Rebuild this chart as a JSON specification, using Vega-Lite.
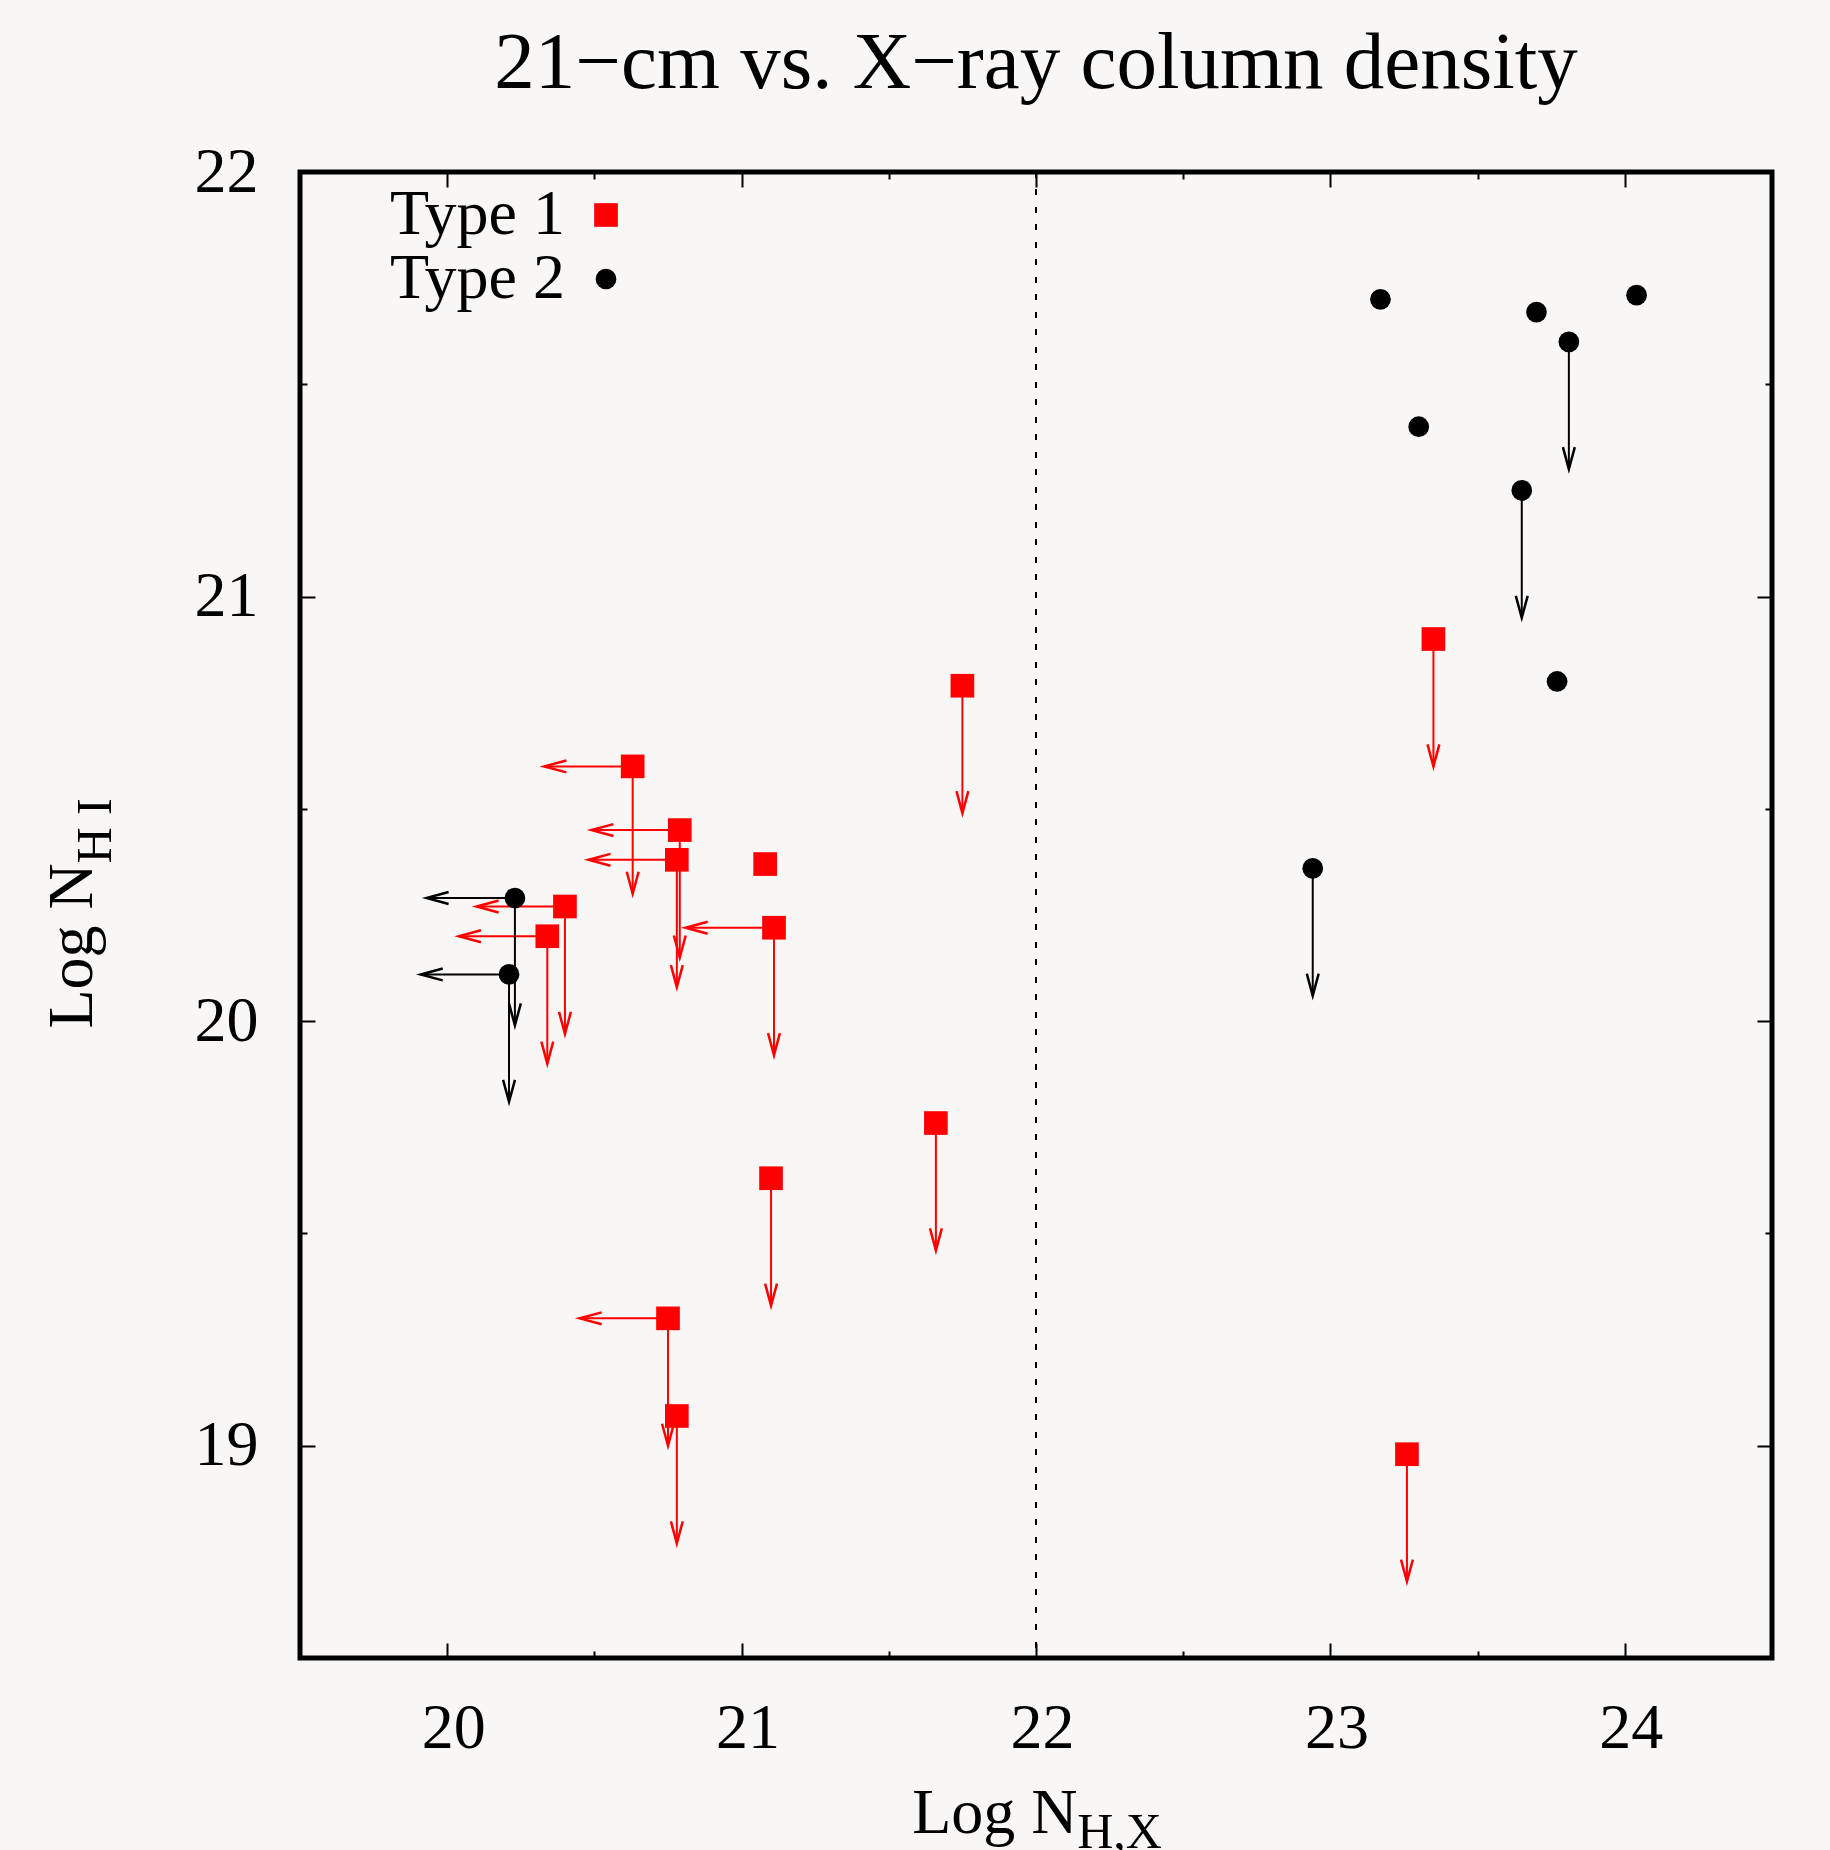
{
  "$schema": "https://vega.github.io/schema/vega-lite/v6.json",
  "width": 1472,
  "height": 1486,
  "autosize": {"type": "none"},
  "padding": {"left": 300, "top": 172, "right": 58, "bottom": 192},
  "background": "#f8f7f6",
  "title": {
    "text": "21\u2212cm vs. X\u2212ray column density",
    "font": "Liberation Serif",
    "fontSize": 81,
    "fontWeight": "normal",
    "color": "black",
    "anchor": "middle",
    "offset": 35
  },
  "config": {
    "view": {"stroke": "black", "strokeWidth": 5},
    "font": "Liberation Serif"
  },
  "data": {
    "values": [
      {"t": "Type 1", "x": 20.63, "y": 20.60, "xl": 20.33, "yl": 20.30},
      {"t": "Type 1", "x": 20.79, "y": 20.45, "xl": 20.49, "yl": 20.15},
      {"t": "Type 1", "x": 20.78, "y": 20.38, "xl": 20.48, "yl": 20.08},
      {"t": "Type 1", "x": 21.08, "y": 20.37},
      {"t": "Type 1", "x": 20.40, "y": 20.27, "xl": 20.10, "yl": 19.97},
      {"t": "Type 1", "x": 20.34, "y": 20.20, "xl": 20.04, "yl": 19.90},
      {"t": "Type 1", "x": 21.11, "y": 20.22, "xl": 20.81, "yl": 19.92},
      {"t": "Type 1", "x": 20.75, "y": 19.30, "xl": 20.45, "yl": 19.00},
      {"t": "Type 1", "x": 20.78, "y": 19.07, "yl": 18.77},
      {"t": "Type 1", "x": 21.75, "y": 20.79, "yl": 20.49},
      {"t": "Type 1", "x": 21.66, "y": 19.76, "yl": 19.46},
      {"t": "Type 1", "x": 21.10, "y": 19.63, "yl": 19.33},
      {"t": "Type 1", "x": 23.35, "y": 20.90, "yl": 20.60},
      {"t": "Type 1", "x": 23.26, "y": 18.98, "yl": 18.68},
      {"t": "Type 2", "x": 20.23, "y": 20.29, "xl": 19.93, "yl": 19.99},
      {"t": "Type 2", "x": 20.21, "y": 20.11, "xl": 19.91, "yl": 19.81},
      {"t": "Type 2", "x": 23.17, "y": 21.70},
      {"t": "Type 2", "x": 23.70, "y": 21.67},
      {"t": "Type 2", "x": 24.04, "y": 21.71},
      {"t": "Type 2", "x": 23.81, "y": 21.60, "yl": 21.30},
      {"t": "Type 2", "x": 23.30, "y": 21.40},
      {"t": "Type 2", "x": 23.65, "y": 21.25, "yl": 20.95},
      {"t": "Type 2", "x": 23.77, "y": 20.80},
      {"t": "Type 2", "x": 22.94, "y": 20.36, "yl": 20.06}
    ]
  },
  "resolve": {"axis": {"x": "independent", "y": "independent"}},
  "layer": [
    {
      "mark": {"type": "rule", "color": "black", "strokeWidth": 2, "strokeDash": [5.5, 12]},
      "encoding": {
        "x": {"datum": 22, "type": "quantitative", "scale": {"domain": [19.5, 24.5], "nice": false, "zero": false}, "axis": null}
      }
    },
    {
      "transform": [{"filter": "datum.t === 'Type 1' && isValid(datum.xl)"}],
      "mark": {"type": "rule", "strokeWidth": 2, "color": "#ff0000"},
      "encoding": {
        "x": {"field": "x", "type": "quantitative", "axis": {
          "orient": "bottom",
          "labels": false, "ticks": false, "domain": false, "grid": false,
          "title": "H,X", "titleFont": "Liberation Serif", "titleFontSize": 50, "titleFontWeight": "normal", "titleColor": "black",
          "titleX": 776.7, "titleY": 189, "titleAlign": "left", "titleBaseline": "alphabetic", "titleAngle": 0
        }},
        "x2": {"field": "xl"},
        "y": {"field": "y", "type": "quantitative", "axis": {
          "orient": "left",
          "labels": false, "ticks": false, "domain": false, "grid": false,
          "title": "H I", "titleFont": "Liberation Serif", "titleFontSize": 50, "titleFontWeight": "normal", "titleColor": "black",
          "titleX": -190, "titleY": 691, "titleAlign": "left", "titleBaseline": "alphabetic", "titleAngle": -90
        }}
      }
    },
    {
      "transform": [{"filter": "datum.t === 'Type 2' && isValid(datum.xl)"}],
      "mark": {"type": "rule", "strokeWidth": 2, "color": "#000000"},
      "encoding": {
        "x": {"field": "x", "type": "quantitative", "axis": null},
        "x2": {"field": "xl"},
        "y": {"field": "y", "type": "quantitative", "axis": null}
      }
    },
    {
      "transform": [{"filter": "datum.t === 'Type 1' && isValid(datum.yl)"}],
      "mark": {"type": "rule", "strokeWidth": 2, "color": "#ff0000"},
      "encoding": {
        "x": {"field": "x", "type": "quantitative", "axis": null},
        "y": {"field": "y", "type": "quantitative", "axis": null},
        "y2": {"field": "yl"}
      }
    },
    {
      "transform": [{"filter": "datum.t === 'Type 2' && isValid(datum.yl)"}],
      "mark": {"type": "rule", "strokeWidth": 2, "color": "#000000"},
      "encoding": {
        "x": {"field": "x", "type": "quantitative", "axis": null},
        "y": {"field": "y", "type": "quantitative", "axis": null},
        "y2": {"field": "yl"}
      }
    },
    {
      "transform": [{"filter": "datum.t === 'Type 1' && isValid(datum.xl)"}],
      "mark": {"type": "point", "shape": "M1,-0.27L0,0L1,0.27", "filled": false, "strokeWidth": 2.5, "size": 1936, "opacity": 1, "color": "#ff0000"},
      "encoding": {
        "x": {"field": "xl", "type": "quantitative", "axis": null},
        "y": {"field": "y", "type": "quantitative", "axis": null}
      }
    },
    {
      "transform": [{"filter": "datum.t === 'Type 2' && isValid(datum.xl)"}],
      "mark": {"type": "point", "shape": "M1,-0.27L0,0L1,0.27", "filled": false, "strokeWidth": 2.5, "size": 1936, "opacity": 1, "color": "#000000"},
      "encoding": {
        "x": {"field": "xl", "type": "quantitative", "axis": null},
        "y": {"field": "y", "type": "quantitative", "axis": null}
      }
    },
    {
      "transform": [{"filter": "datum.t === 'Type 1' && isValid(datum.yl)"}],
      "mark": {"type": "point", "shape": "M-0.27,-1L0,0L0.27,-1", "filled": false, "strokeWidth": 2.5, "size": 1936, "opacity": 1, "color": "#ff0000"},
      "encoding": {
        "x": {"field": "x", "type": "quantitative", "axis": null},
        "y": {"field": "yl", "type": "quantitative", "axis": null}
      }
    },
    {
      "transform": [{"filter": "datum.t === 'Type 2' && isValid(datum.yl)"}],
      "mark": {"type": "point", "shape": "M-0.27,-1L0,0L0.27,-1", "filled": false, "strokeWidth": 2.5, "size": 1936, "opacity": 1, "color": "#000000"},
      "encoding": {
        "x": {"field": "x", "type": "quantitative", "axis": null},
        "y": {"field": "yl", "type": "quantitative", "axis": null}
      }
    },
    {
      "mark": {"type": "point", "filled": true, "opacity": 1, "strokeWidth": 0},
      "encoding": {
        "x": {"field": "x", "type": "quantitative", "axis": {
          "orient": "bottom",
          "values": [20, 20.5, 21, 21.5, 22, 22.5, 23, 23.5, 24],
          "format": ".0f",
          "labelExpr": "datum.value % 1 === 0 ? datum.label : ''",
          "ticks": false, "domain": false,
          "grid": true, "gridColor": "black", "gridWidth": 2, "gridOpacity": 1,
          "gridDash": {"condition": {"test": "datum.value % 1 === 0", "value": [15, 1456]}, "value": [7, 1472]},
          "labelFont": "Liberation Serif", "labelFontSize": 64, "labelColor": "black", "labelPadding": 38, "labelOffset": 6,
          "labelFlush": false, "labelOverlap": false,
          "title": "Log N", "titleFont": "Liberation Serif", "titleFontSize": 64, "titleFontWeight": "normal", "titleColor": "black",
          "titleX": 611.7, "titleY": 174.7, "titleAlign": "left", "titleBaseline": "alphabetic", "titleAngle": 0
        }},
        "y": {"field": "y", "type": "quantitative", "scale": {"domain": [18.5, 22], "nice": false, "zero": false}, "axis": {
          "orient": "left",
          "values": [19, 19.5, 20, 20.5, 21, 21.5, 22],
          "format": ".0f",
          "labelExpr": "datum.value % 1 === 0 ? datum.label : ''",
          "ticks": false, "domain": false,
          "grid": true, "gridColor": "black", "gridWidth": 2, "gridOpacity": 1,
          "gridDash": {"condition": {"test": "datum.value % 1 === 0", "value": [15, 1442]}, "value": [7, 1458]},
          "labelFont": "Liberation Serif", "labelFontSize": 64, "labelColor": "black", "labelPadding": 42,
          "labelFlush": false, "labelOverlap": false,
          "title": "Log N", "titleFont": "Liberation Serif", "titleFontSize": 64, "titleFontWeight": "normal", "titleColor": "black",
          "titleX": -208.3, "titleY": 856, "titleAlign": "left", "titleBaseline": "alphabetic", "titleAngle": -90
        }},
        "color": {"field": "t", "type": "nominal", "scale": {"domain": ["Type 1", "Type 2"], "range": ["#ff0000", "#000000"]}, "legend": {
          "orient": "none", "legendX": 274, "legendY": 11, "title": null,
          "labelFont": "Liberation Serif", "labelFontSize": 64, "labelColor": "black", "labelLimit": 600,
          "labelAlign": "right", "labelBaseline": "middle", "labelOffset": -73,
          "symbolSize": 540, "symbolStrokeWidth": 0, "rowPadding": 0, "padding": 0
        }},
        "shape": {"field": "t", "type": "nominal", "scale": {"domain": ["Type 1", "Type 2"], "range": ["square", "circle"]}, "legend": {
          "orient": "none", "legendX": 274, "legendY": 11, "title": null,
          "labelFont": "Liberation Serif", "labelFontSize": 64, "labelColor": "black", "labelLimit": 600,
          "labelAlign": "right", "labelBaseline": "middle", "labelOffset": -73,
          "symbolSize": 540, "symbolStrokeWidth": 0, "rowPadding": 0, "padding": 0
        }},
        "size": {"field": "t", "type": "ordinal", "scale": {"domain": ["Type 1", "Type 2"], "range": [560, 430]}, "legend": null}
      }
    }
  ]
}
